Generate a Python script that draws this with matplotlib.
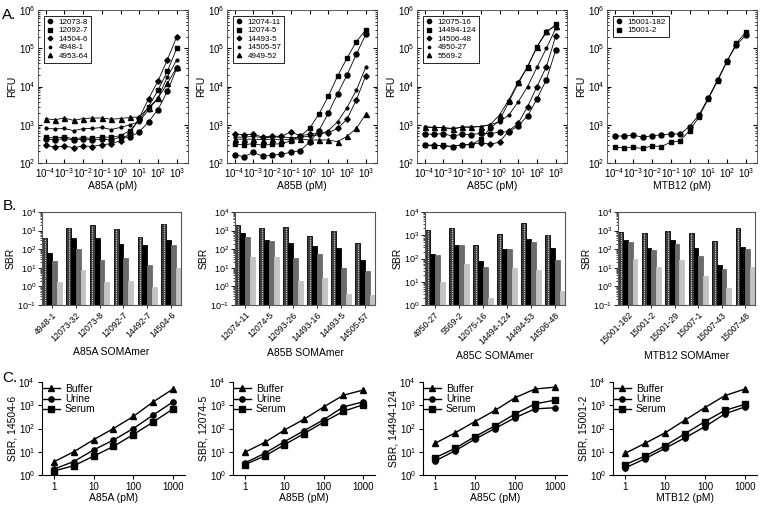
import matplotlib
matplotlib.use('Agg')
import matplotlib.pyplot as plt
import matplotlib.ticker as mticker

plt.rcParams['font.family'] = 'Liberation Sans'
plt.rcParams['mathtext.default'] = 'regular'
plt.rcParams['font.size'] = 7

# ---- panel A: RFU vs target concentration (pM) ----
conc_a = [0.0001, 0.000316, 0.001, 0.00316, 0.01, 0.0316, 0.1, 0.316,
          1, 3.16, 10, 31.6, 100, 316, 1000]

a85a_names = ['12073-8', '12092-7', '14504-6', '4948-1', '4953-64']
a85a_rfu = [
    [420, 400, 440, 400, 420, 410, 420, 400, 480, 470, 650, 1200, 2500, 7500, 30000],
    [470, 450, 480, 430, 460, 440, 480, 470, 520, 700, 1300, 3000, 8000, 25000, 100000],
    [290, 260, 280, 250, 280, 270, 300, 320, 380, 600, 1500, 4800, 14000, 50000, 200000],
    [800, 780, 800, 700, 790, 800, 850, 750, 850, 1000, 1200, 2500, 5000, 18000, 50000],
    [1450, 1350, 1500, 1300, 1450, 1500, 1500, 1400, 1450, 1550, 1600, 2800, 5000, 12000, 32000],
]

a85b_names = ['12074-11', '12074-5', '14493-5', '14505-57', '4949-52']
a85b_rfu = [
    [165, 145, 190, 150, 160, 170, 190, 210, 350, 700, 2000, 6500, 20000, 70000, 230000],
    [310, 300, 320, 290, 310, 320, 380, 500, 800, 1900, 5500, 19000, 55000, 150000, 300000],
    [560, 550, 560, 480, 500, 500, 650, 520, 560, 600, 620, 800, 1400, 4500, 19000],
    [480, 470, 500, 460, 470, 480, 460, 470, 500, 550, 700, 1200, 2800, 8000, 32000],
    [420, 420, 420, 410, 420, 400, 420, 420, 400, 400, 400, 360, 500, 800, 1900],
]

a85c_names = ['12075-16', '14494-124', '14506-48', '4950-27', '5569-2']
a85c_rfu = [
    [580, 560, 590, 500, 570, 550, 600, 580, 650, 650, 950, 1700, 4800, 15000, 90000],
    [290, 280, 290, 270, 300, 300, 420, 800, 1300, 4000, 12000, 33000, 110000, 260000, 420000],
    [300, 290, 280, 270, 300, 310, 340, 310, 350, 700, 1100, 3000, 10000, 33000, 210000],
    [860, 850, 840, 800, 860, 870, 900, 1000, 1200, 1800, 4000, 10000, 32000, 100000, 330000],
    [900, 850, 850, 760, 880, 870, 900, 1000, 1800, 4500, 13000, 33000, 110000, 280000, 380000],
]

mtb12_names = ['15001-182', '15001-2']
mtb12_rfu = [
    [520, 500, 540, 470, 520, 540, 580, 570, 900, 1800, 5000, 15000, 47000, 120000, 220000],
    [260, 250, 255, 240, 280, 270, 350, 380, 700, 1600, 4700, 14000, 45000, 135000, 260000],
]

# ---- panel B: SBR per SOMAmer, four bars per reagent ----
a85a_somamers = ['4948-1', '12073-32', '12073-8', '12092-7', '14492-7', '14504-6']
a85a_sbr = [
    [400, 1450, 2100, 1200, 430, 2400],
    [63, 400, 380, 200, 160, 300],
    [23, 100, 26, 32, 15, 160],
    [1.8, 7.5, 1.8, 1.9, 0.9, 10],
]
a85b_somamers = ['12074-11', '12074-5', '12093-26', '14493-16', '14493-5', '14505-57']
a85b_sbr = [
    [2100, 1450, 1600, 500, 900, 220],
    [700, 330, 220, 150, 120, 25],
    [450, 270, 35, 52, 10, 7],
    [36, 40, 2, 3, 0.38, 0.33],
]
a85c_somamers = ['4950-27', '5569-2', '12075-16', '14494-124', '14494-53', '14506-48']
a85c_sbr = [
    [1700, 2100, 400, 1170, 3400, 1070],
    [155, 380, 80, 250, 720, 275],
    [140, 380, 44, 250, 500, 90],
    [10, 60, 2, 38, 31, 4],
]
mtb12_somamers = ['15001-182', '15001-2', '15001-29', '15007-1', '15007-43', '15007-48']
mtb12_sbr = [
    [850, 700, 1000, 770, 280, 1450],
    [330, 110, 300, 110, 15, 125],
    [240, 88, 200, 42, 8.5, 100],
    [28, 10.5, 26, 3.5, 0.8, 11],
]

# ---- panel C: SBR in buffer / urine / serum ----
conc_c = [1, 3.16, 10, 31.6, 100, 316, 1000]
matrices = ['Buffer', 'Urine', 'Serum']
sbr_14504_6 = [
    [3.7, 10, 33, 100, 330, 1400, 5000],
    [1.8, 3.8, 12, 32, 100, 380, 1400],
    [1.5, 2.5, 6.5, 17, 55, 190, 700],
]
sbr_12074_5 = [
    [9.5, 25, 85, 250, 850, 2700, 4500],
    [3.3, 8.5, 27, 80, 240, 850, 1400],
    [2.8, 6.5, 20, 60, 190, 550, 1050],
]
sbr_14494_124 = [
    [23, 65, 200, 600, 2100, 5000, 6000],
    [4, 11, 35, 100, 290, 700, 780],
    [5.5, 14, 45, 130, 420, 1150, 1650],
]
sbr_15001_2 = [
    [8.5, 23, 65, 230, 800, 2600, 5000],
    [2, 5, 14, 40, 120, 430, 850],
    [2.8, 6.5, 18, 60, 200, 600, 1100],
]

fig = plt.figure(figsize=(7.6, 5.05), dpi=100)


def add_ax(l, t, r, b):
    return fig.add_axes([l / 760, 1 - b / 505, (r - l) / 760, (b - t) / 505])


def decades(lo, hi):
    return [10.0 ** e for e in range(lo, hi + 1)]


# marker style per series position
a_markers = [('o', 3.6), ('s', 3.2), ('D', 2.8), ('o', 2.0), ('^', 3.6)]

a_sets = [(a85a_names, a85a_rfu, 'A85A (pM)'),
          (a85b_names, a85b_rfu, 'A85B (pM)'),
          (a85c_names, a85c_rfu, 'A85C (pM)'),
          (mtb12_names, mtb12_rfu, 'MTB12 (pM)')]
a_lefts = [38, 227, 417, 607]

for (names, rfu, xlab), left in zip(a_sets, a_lefts):
    ax = add_ax(left, 10, left + 150, 163)
    for i, (name, y) in enumerate(zip(names, rfu)):
        m, ms = a_markers[i]
        ax.plot(conc_a, y, '-', color='k', lw=0.6)
        ax.plot(conc_a, y, ls='none', marker=m, color='k', ms=ms, label=name)
    ax.set_xscale('log')
    ax.set_yscale('log')
    ax.set_xlim(10 ** -4.4, 10 ** 3.6)
    ax.set_ylim(100, 1e6)
    ax.set_xticks(decades(-4, 3))
    ax.set_yticks(decades(2, 6))
    ax.tick_params(which='both', direction='in', top=True, right=True, labelsize=7, pad=2)
    ax.tick_params(which='major', length=3)
    ax.tick_params(which='minor', length=1.5)
    ax.set_xlabel(xlab, fontsize=7.5, labelpad=1)
    ax.set_ylabel('RFU', fontsize=7.5, labelpad=1)
    for s in ax.spines.values():
        s.set_linewidth(0.6)
        s.set_color('#444444')
    leg = ax.legend(loc='upper left', fontsize=5.8, handlelength=0.8, handletextpad=0.7,
                    labelspacing=0.1, borderpad=0.35, fancybox=False, framealpha=1,
                    bbox_to_anchor=(0.01, 0.99), markerscale=0.85)
    leg.get_frame().set_edgecolor('k')
    leg.get_frame().set_linewidth(0.6)

# ---- B ----
b_sets = [(a85a_somamers, a85a_sbr, 'A85A SOMAmer', -1),
          (a85b_somamers, a85b_sbr, 'A85B SOMAmer', -1),
          (a85c_somamers, a85c_sbr, 'A85C SOMAmer', 0),
          (mtb12_somamers, mtb12_sbr, 'MTB12 SOMAmer', -1)]
b_boxes = [(42, 212, 181, 305), (235, 212, 375, 305), (425, 212, 565, 305), (618, 212, 755, 305)]
bar_colors = ['#3c3c3c', 'black', '#6b6b6b', '#c4c4c4']
offsets = [-0.3, -0.1, 0.1, 0.3]

for (labels, sbr, xlab, emin), box in zip(b_sets, b_boxes):
    ymin = 10.0 ** emin
    ax = add_ax(*box)
    ax.set_yscale('log')
    xs = list(range(len(labels)))
    for j in range(4):
        pos = [x + offsets[j] for x in xs]
        ax.bar(pos, [v - ymin for v in sbr[j]], width=0.2, bottom=ymin,
               color=bar_colors[j], edgecolor='k' if j == 0 else bar_colors[j], lw=0.6)
        if j == 0:
            ax.vlines(pos, ymin, sbr[j], colors='#dddddd', linestyles=(0, (1, 1)), lw=0.8)
    ax.set_ylim(ymin, 1e4)
    ax.set_yticks(decades(emin, 4))
    ax.set_xlim(-0.42, len(labels) - 0.58)
    ax.set_xticks(xs)
    ax.set_xticklabels(labels, rotation=45, ha='right', rotation_mode='anchor', fontsize=6.3)
    ax.tick_params(axis='x', length=2, width=0.6, pad=2)
    ax.tick_params(axis='y', which='major', length=3, width=0.6, labelsize=6.5, pad=1)
    ax.tick_params(axis='y', which='minor', length=1.5, width=0.5)
    ax.set_ylabel('SBR', fontsize=7.5, labelpad=1)
    ax.set_xlabel(xlab, fontsize=7.5, labelpad=3)
    for s in ax.spines.values():
        s.set_linewidth(0.8)
        s.set_color('#555555')

# ---- C ----
c_sets = [(sbr_14504_6, 'SBR, 14504-6', 'A85A (pM)'),
          (sbr_12074_5, 'SBR, 12074-5', 'A85B (pM)'),
          (sbr_14494_124, 'SBR, 14494-124', 'A85C (pM)'),
          (sbr_15001_2, 'SBR, 15001-2', 'MTB12 (pM)')]
c_boxes = [(42, 382, 185, 475), (233, 382, 375, 475), (423, 382, 567, 475), (613, 382, 757, 475)]
c_markers = ['^', 'o', 's']

for (vals, ylab, xlab), box in zip(c_sets, c_boxes):
    ax = add_ax(*box)
    for k, name in enumerate(matrices):
        ax.plot(conc_c, vals[k], '-', color='k', marker=c_markers[k], ms=3.8, lw=1, label=name)
    ax.set_xscale('log')
    ax.set_yscale('log')
    ax.set_xlim(0.5, 2000)
    ax.set_ylim(1, 1e4)
    ax.set_yticks(decades(0, 4))
    ax.set_xticks([1, 10, 100, 1000])
    ax.set_xticklabels(['1', '10', '100', '1000'])
    ax.xaxis.set_minor_locator(mticker.NullLocator())
    ax.spines['top'].set_visible(False)
    ax.spines['right'].set_visible(False)
    for s in ['left', 'bottom']:
        ax.spines[s].set_linewidth(0.8)
    ax.tick_params(which='major', length=3, width=0.8, labelsize=7, pad=2)
    ax.tick_params(which='minor', length=1.5, width=0.5)
    ax.set_ylabel(ylab, fontsize=7.5, labelpad=1)
    ax.set_xlabel(xlab, fontsize=7.5, labelpad=1)
    ax.legend(loc='upper left', frameon=False, fontsize=7.5, handlelength=1.6,
              labelspacing=0.02, borderaxespad=0, borderpad=0.1, handletextpad=0.5,
              bbox_to_anchor=(0.0, 0.99))

fig.text(0.003, 0.985, 'A.', fontsize=11, va='top')
fig.text(0.003, 0.605, 'B.', fontsize=11, va='top')
fig.text(0.003, 0.266, 'C.', fontsize=11, va='top')

fig.savefig('out.png', dpi=100)
